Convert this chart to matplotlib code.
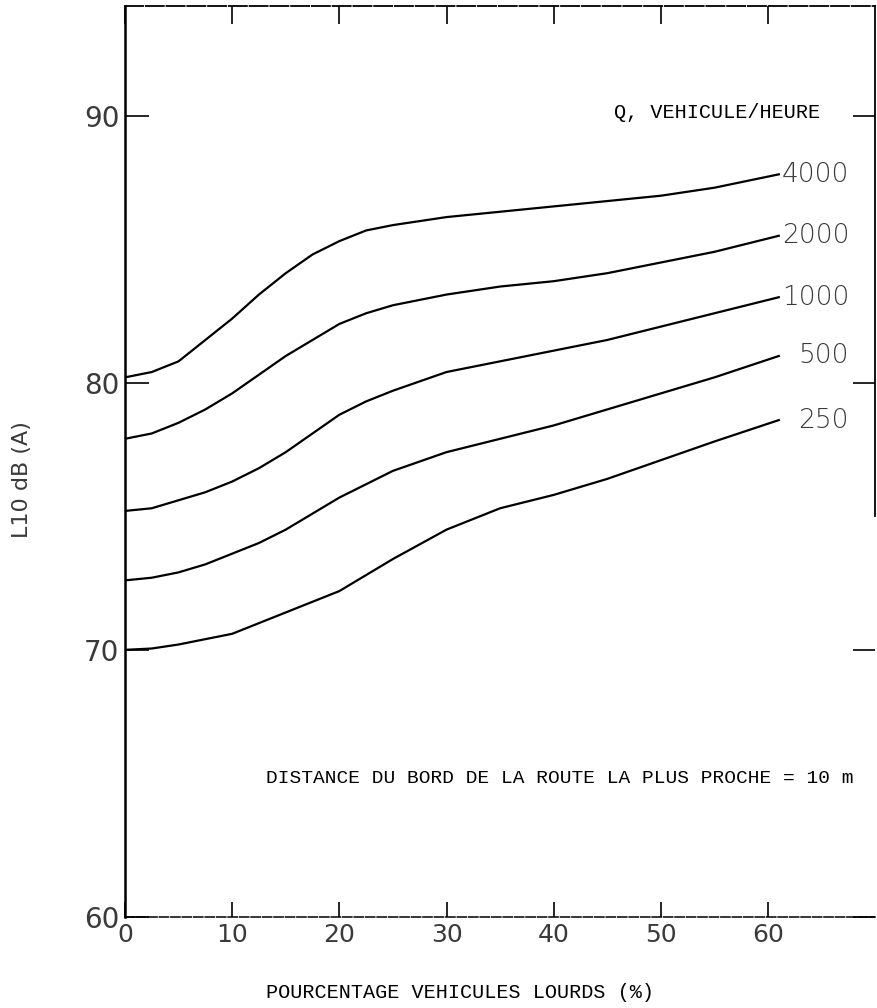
import matplotlib
matplotlib.use("Agg")
import matplotlib.pyplot as plt

# pourcentage de vehicules lourds
pct = [0, 2.5, 5, 7.5, 10, 12.5, 15, 17.5, 20, 22.5, 25, 30, 35, 40, 45, 50, 55, 61]

# L10 dB(A), un debit Q par courbe
l_4000 = [80.2, 80.4, 80.8, 81.6, 82.4, 83.3, 84.1, 84.8, 85.3, 85.7, 85.9, 86.2, 86.4, 86.6, 86.8, 87.0, 87.3, 87.8]
l_2000 = [77.9, 78.1, 78.5, 79.0, 79.6, 80.3, 81.0, 81.6, 82.2, 82.6, 82.9, 83.3, 83.6, 83.8, 84.1, 84.5, 84.9, 85.5]
l_1000 = [75.2, 75.3, 75.6, 75.9, 76.3, 76.8, 77.4, 78.1, 78.8, 79.3, 79.7, 80.4, 80.8, 81.2, 81.6, 82.1, 82.6, 83.2]
l_500 = [72.6, 72.7, 72.9, 73.2, 73.6, 74.0, 74.5, 75.1, 75.7, 76.2, 76.7, 77.4, 77.9, 78.4, 79.0, 79.6, 80.2, 81.0]
l_250 = [70.0, 70.05, 70.2, 70.4, 70.6, 71.0, 71.4, 71.8, 72.2, 72.8, 73.4, 74.5, 75.3, 75.8, 76.4, 77.1, 77.8, 78.6]

series = [l_4000, l_2000, l_1000, l_500, l_250]
q_labels = ["4000", "2000", "1000", "500", "250"]

x_ticks = [0, 10, 20, 30, 40, 50, 60]
y_ticks = [60, 70, 80, 90]

mono = "Liberation Mono"
digit_color = "#3a3a3a"

fig = plt.figure(figsize=(8.77, 10.08), dpi=100)
ax = fig.add_axes([0.1425, 0.0903, 0.8555, 0.9037])

for vals, lab in zip(series, q_labels):
    ax.plot(pct, vals, color="black", lw=1.6)
    gap = 0.3 if lab in ("4000", "2000", "1000") else 1.8
    ax.text(pct[-1] + gap, vals[-1], lab, fontsize=19, color=digit_color,
            va="center", ha="left", family="DejaVu Sans", fontweight="light")

ax.set_xlim(0, 70)
ax.set_ylim(60, 94.1)

ax.set_xticks(x_ticks)
ax.set_xticklabels([str(v) for v in x_ticks], fontsize=18, color=digit_color)
ax.set_yticks(y_ticks)
ax.set_yticklabels([str(v) for v in y_ticks], fontsize=20, color=digit_color)

ax.tick_params(axis="x", direction="in", length=11, width=1.2, pad=4,
               top=True, bottom=True)
ax.tick_params(axis="y", direction="in", length=17, width=1.2, pad=4,
               left=True, right=True)
for t in ax.xaxis.get_major_ticks():
    t.tick2line.set_markersize(13)
for t in ax.yaxis.get_major_ticks():
    t.tick2line.set_markersize(16)

ax.spines["left"].set_linewidth(1.8)
ax.spines["top"].set_linewidth(1.3)
ax.spines["top"].set_linestyle((0, (10, 1.5)))
ax.spines["bottom"].set_linewidth(1.1)
ax.spines["bottom"].set_linestyle((0, (6, 1.5)))
ax.spines["right"].set_linewidth(1.3)
ax.spines["right"].set_bounds(75, 94.1)

ax.text(55.2, 90.1, "Q, VEHICULE/HEURE", fontsize=14.5, family=mono,
        ha="center", va="center")
ax.text(40.6, 65.2, "DISTANCE DU BORD DE LA ROUTE LA PLUS PROCHE = 10 m",
        fontsize=14, family=mono, ha="center", va="center")

fig.text(460 / 877, 1 - 993 / 1008, "POURCENTAGE VEHICULES LOURDS (%)",
         fontsize=14.5, family=mono, ha="center", va="center")
fig.text(22 / 877, 1 - 480 / 1008, "L10 dB (A)", fontsize=16, rotation=90,
         color=digit_color, ha="center", va="center")

fig.savefig("out.png", dpi=100)
